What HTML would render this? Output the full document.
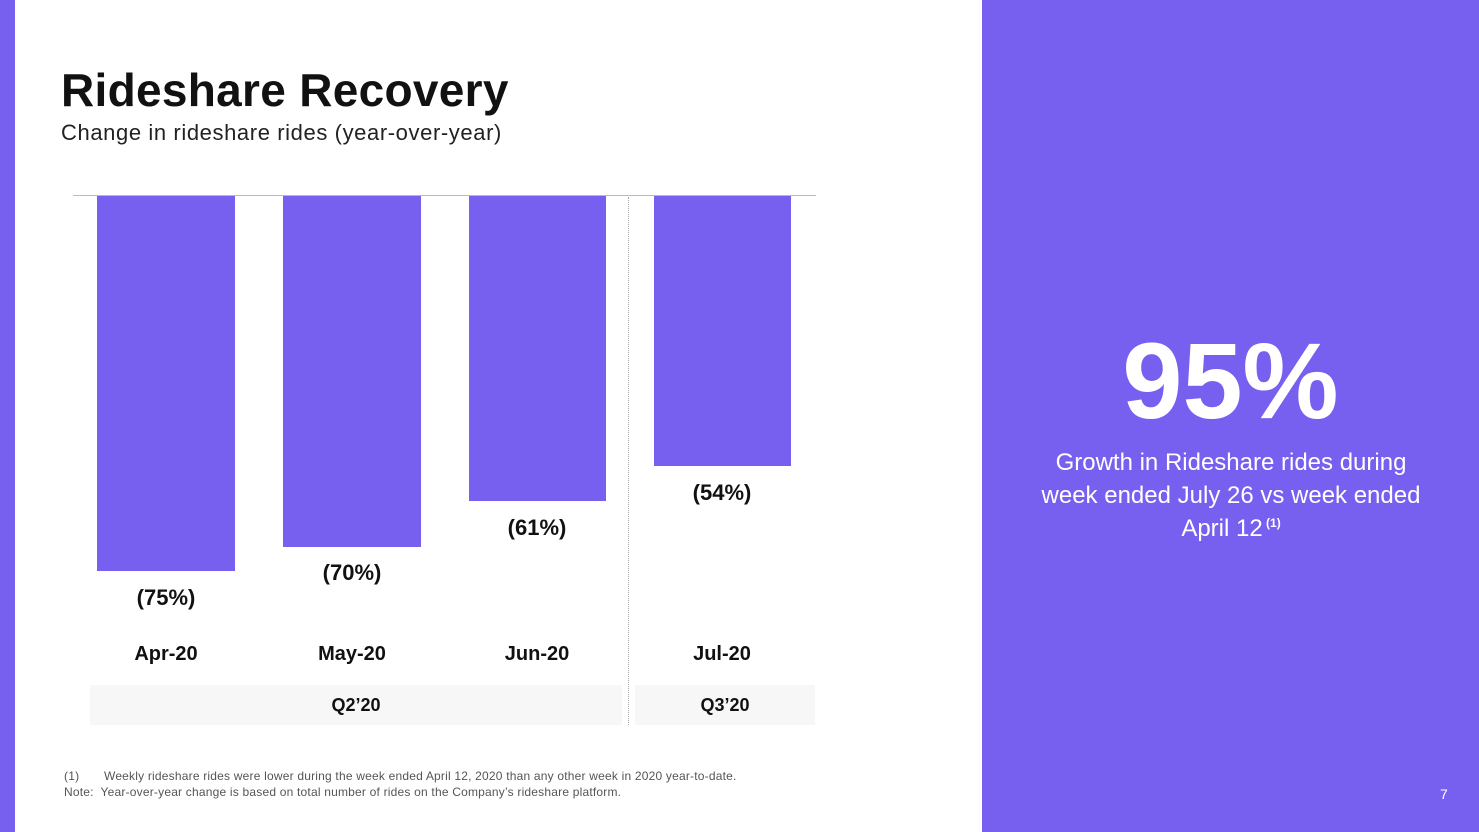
<!DOCTYPE html>
<html><head><meta charset="utf-8"><style>
body{margin:0;width:1479px;height:832px;position:relative;overflow:hidden;background:#fff;font-family:"Liberation Sans",sans-serif;color:#111}
div{position:absolute}
.bar{background:#775FEF;top:196px}
.v{font-weight:bold;font-size:22px;text-align:center;width:160px}
.m{font-weight:bold;font-size:20px;text-align:center;width:160px;top:643px}
.q{background:#f7f7f7;top:685px;height:40px;line-height:40px;text-align:center;font-weight:bold;font-size:18px}
</style></head><body>
<div style="left:0;top:0;width:15px;height:832px;background:#775FEF"></div>
<div style="left:982px;top:0;width:497px;height:832px;background:#775FEF"></div>
<div style="left:61px;top:63px;font-size:46px;font-weight:bold;letter-spacing:0.3px">Rideshare Recovery</div>
<div style="left:61px;top:120px;font-size:22px;color:#222;letter-spacing:0.6px">Change in rideshare rides (year-over-year)</div>
<div style="left:73px;top:195px;width:743px;height:1px;background:#bbb"></div>
<div class="bar" style="left:97px;width:138px;height:375px"></div>
<div class="bar" style="left:283px;width:138px;height:351px"></div>
<div class="bar" style="left:469px;width:137px;height:305px"></div>
<div class="bar" style="left:654px;width:137px;height:270px"></div>
<div class="v" style="left:86px;top:585px">(75%)</div>
<div class="v" style="left:272px;top:560px">(70%)</div>
<div class="v" style="left:457px;top:515px">(61%)</div>
<div class="v" style="left:642px;top:480px">(54%)</div>
<div class="m" style="left:86px">Apr-20</div>
<div class="m" style="left:272px">May-20</div>
<div class="m" style="left:457px">Jun-20</div>
<div class="m" style="left:642px">Jul-20</div>
<div style="left:628px;top:197px;height:528px;border-left:1px dotted #aaa"></div>
<div class="q" style="left:90px;width:532px">Q2’20</div>
<div class="q" style="left:635px;width:180px">Q3’20</div>
<div style="left:64px;top:768px;font-size:12px;color:#555;line-height:16px;letter-spacing:0.2px">(1)&nbsp;&nbsp;&nbsp;&nbsp;&nbsp;&nbsp;&nbsp;Weekly rideshare rides were lower during the week ended April 12, 2020 than any other week in 2020 year-to-date.<br>Note:&nbsp; Year-over-year change is based on total number of rides on the Company’s rideshare platform.</div>
<div style="left:982px;top:318px;width:497px;text-align:center;color:#fff;font-size:108px;font-weight:bold">95%</div>
<div style="left:1030px;top:446px;width:402px;text-align:center;color:#fff;font-size:24px;line-height:33px">Growth in Rideshare rides during week ended July 26 vs week ended April 12<sup style="font-size:12px;font-weight:bold;line-height:0"> (1)</sup></div>
<div style="left:1440px;top:786px;color:#fff;font-size:14px">7</div>
</body></html>
